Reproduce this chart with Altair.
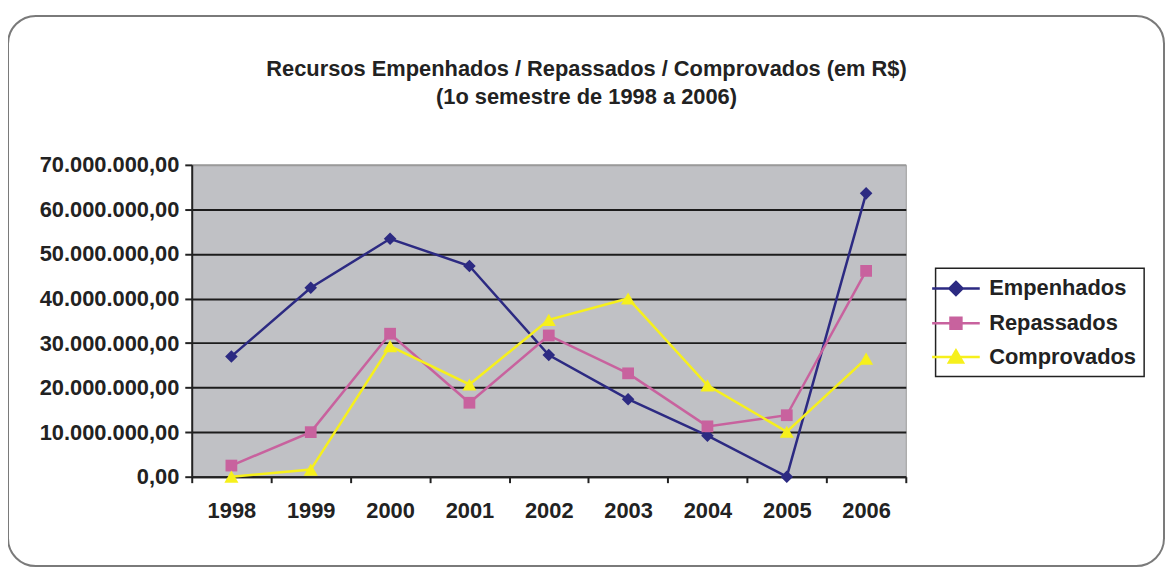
import altair as alt
import pandas as pd

years = ["1998", "1999", "2000", "2001", "2002", "2003", "2004", "2005", "2006"]
series_names = ["Empenhados", "Repassados", "Comprovados"]
empenhados = [27.0, 42.4, 53.4, 47.3, 27.3, 17.4, 9.2, 0.0, 63.6]
repassados = [2.5, 10.0, 32.1, 16.6, 31.7, 23.2, 11.3, 13.8, 46.2]
comprovados = [0.0, 1.6, 29.3, 20.7, 35.2, 40.0, 20.5, 10.1, 26.5]
y_ticks = [0, 10e6, 20e6, 30e6, 40e6, 50e6, 60e6, 70e6]
title_lines = ["Recursos Empenhados / Repassados / Comprovados (em R$)",
               "(1o semestre de 1998 a 2006)"]

colors = ["#2c2a82", "#c8629e", "#f6f01c"]
shapes_plot = ["diamond", "square", "triangle-up"]
sizes_plot = [160, 140, 200]
legend_paths = [
    "M-2.18,0H2.18M0,-0.6L0.6,0L0,0.6L-0.6,0Z",
    "M-2.18,0H2.18M-0.5,-0.5H0.5V0.5H-0.5Z",
    "M-2.18,0H2.18M0,-0.6L0.64,0.5H-0.64Z",
]

rows = []
for name, vals in zip(series_names, [empenhados, repassados, comprovados]):
    for yr, v in zip(years, vals):
        rows.append({"Ano": yr, "Serie": name, "Valor": v * 1e6})
df = pd.DataFrame(rows)

FONT = "Liberation Sans"

x_enc = alt.X("Ano:O", sort=years,
              scale=alt.Scale(type="band", paddingInner=0, paddingOuter=0),
              axis=alt.Axis(title=None, labelAngle=0, tickBand="extent",
                            labelFont=FONT, labelFontSize=22, labelFontWeight="bold",
                            labelColor="#222222", labelPadding=18,
                            tickSize=6, tickColor="#222222", tickWidth=2,
                            domainColor="#222222", domainWidth=2))
label_expr = ("replace(replace(replace(format(datum.value, ',.2f'), regexp(',', 'g'), '#'), "
              "regexp('[.]', 'g'), ','), regexp('#', 'g'), '.')")
y_enc = alt.Y("Valor:Q",
              scale=alt.Scale(domain=[0, 70e6], nice=False, zero=True),
              axis=alt.Axis(title=None, values=y_ticks, labelExpr=label_expr,
                            labelFont=FONT, labelFontSize=22, labelFontWeight="bold",
                            labelColor="#222222", labelPadding=6,
                            tickSize=7, tickColor="#222222", tickWidth=2,
                            domainColor="#222222", domainWidth=2,
                            grid=True,
                            gridColor={"condition": {"test": "datum.value >= 70000000", "value": "#9a9a9a"},
                                       "value": "#1c1c1c"},
                            gridWidth=2))
color_scale = alt.Scale(domain=series_names, range=colors)

frame = alt.Chart(alt.Data(values=[{"f": 1}])).mark_rect(
    cornerRadius=28, filled=False, stroke="#7a7a7a", strokeWidth=2
).encode(x=alt.value(-185), x2=alt.value(979), y=alt.value(-150), y2=alt.value(404))

layers = [frame]
for i, (name, col) in enumerate(zip(series_names, colors)):
    base = alt.Chart(df).transform_filter(alt.datum.Serie == name)
    if i == 0:
        layers.append(base.mark_line(strokeWidth=2.5, color=col).encode(x=x_enc, y=y_enc))
    else:
        layers.append(base.mark_line(strokeWidth=2.5, color=col).encode(
            x=alt.X("Ano:O", sort=years), y=alt.Y("Valor:Q")))
for name, col, shp, sz in zip(series_names, colors, shapes_plot, sizes_plot):
    layers.append(
        alt.Chart(df).transform_filter(alt.datum.Serie == name).mark_point(
            shape=shp, filled=True, size=sz, opacity=1, strokeWidth=0, color=col
        ).encode(x=alt.X("Ano:O", sort=years), y=alt.Y("Valor:Q"))
    )

leg = alt.Legend(title=None, orient="none", legendX=749, legendY=104,
                 labelFont=FONT, labelFontSize=22, labelFontWeight="bold",
                 labelColor="#222222", symbolSize=484, symbolStrokeWidth=2.5,
                 labelOffset=21, rowPadding=10, padding=8,
                 strokeColor="#222222", fillColor="white")
legend_layer = alt.Chart(df).transform_filter("false").mark_point(filled=True, opacity=1).encode(
    x=alt.X("Ano:O", sort=years), y=alt.Y("Valor:Q"),
    color=alt.Color("Serie:N", scale=color_scale, legend=leg),
    stroke=alt.Stroke("Serie:N", scale=alt.Scale(domain=series_names, range=colors), legend=leg),
    shape=alt.Shape("Serie:N", scale=alt.Scale(domain=series_names, range=legend_paths), legend=leg),
)
layers.append(legend_layer)

chart = alt.layer(*layers).properties(
    width=719, height=314,
    autosize=alt.AutoSizeParams(type="none"),
    padding={"left": 185, "top": 156, "right": 261, "bottom": 92},
    background="white",
    title=alt.TitleParams(text=title_lines, font=FONT, fontSize=22, fontWeight="bold",
                          color="#222222", anchor="middle", dx=38, offset=-95, lineHeight=28),
).configure_view(
    fill="#c0c1c5", stroke="#9a9a9a", strokeWidth=1
).configure_legend(strokeWidth=1.5)

chart.save("out.html", embed_options={"renderer": "svg", "actions": False})
